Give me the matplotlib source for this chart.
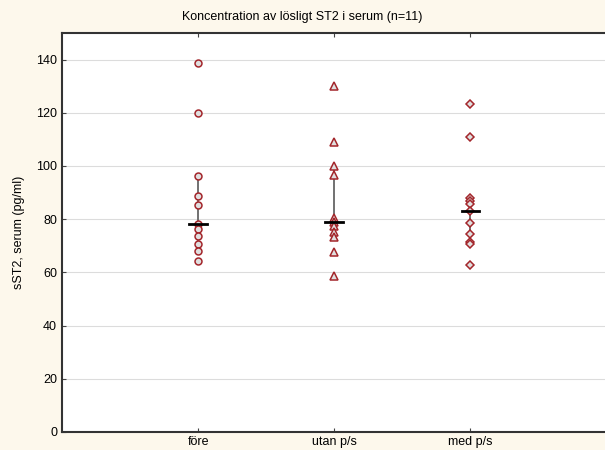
import matplotlib.pyplot as plt

plt.rcParams['font.family'] = ['Liberation Sans', 'DejaVu Sans']

groups = ["före", "utan p/s", "med p/s"]
fore = [138.7, 120.1, 96.2, 88.7, 85.2, 78.2, 76.4, 73.8, 70.6, 68.0, 64.1]
utan = [130.0, 109.1, 100.1, 96.6, 80.4, 78.8, 77.3, 75.0, 73.3, 67.5, 58.7]
med = [123.2, 110.9, 88.0, 86.8, 85.7, 83.2, 78.5, 74.4, 71.6, 70.8, 62.6]
medians = [78.2, 78.8, 83.2]
whisk_lo = [70.6, 73.3, 70.8]
whisk_hi = [96.2, 100.1, 88.0]
markers = ["o", "^", "D"]
sizes = [5.0, 5.6, 4.0]

bg = "#fdf8ec"
red = "#a3262b"

fig = plt.figure(figsize=(6.05, 4.5), dpi=100, facecolor=bg)
ax = fig.add_axes([0.1025, 0.04, 0.9, 0.8867])
ax.set_facecolor("white")

for i, vals in enumerate([fore, utan, med]):
    x = i + 1
    ax.plot([x, x], [whisk_lo[i], whisk_hi[i]], color="#666666", lw=1.3, zorder=2)
    ax.plot([x] * len(vals), vals, linestyle="none", marker=markers[i],
            markersize=sizes[i], markerfacecolor="#e0e0e0", markeredgecolor=red,
            markeredgewidth=1.1, zorder=3)
    ax.plot([x - 0.065, x + 0.065], [medians[i], medians[i]], color="black",
            lw=2.0, zorder=4)

ax.set_xlim(0, 4)
ax.set_ylim(0, 150)
ax.set_yticks(range(0, 141, 20))
ax.set_xticks([1, 2, 3])
ax.set_xticklabels(groups)
ax.yaxis.grid(True, color="#dcdcdc", lw=0.8)
ax.set_axisbelow(True)
ax.tick_params(axis="both", direction="in", labelsize=9, length=3, colors="#444444",
               labelcolor="black", top=True)
ax.tick_params(axis="x", pad=3)
for side in ["left", "bottom", "top"]:
    ax.spines[side].set_linewidth(1.5)
    ax.spines[side].set_color("#333333")
ax.spines["right"].set_visible(False)

ax.set_ylabel("sST2, serum (pg/ml)", fontsize=9, labelpad=8)
fig.suptitle("Koncentration av lösligt ST2 i serum (n=11)", fontsize=9, y=0.975)

fig.savefig("out.png", dpi=100, facecolor=bg)
